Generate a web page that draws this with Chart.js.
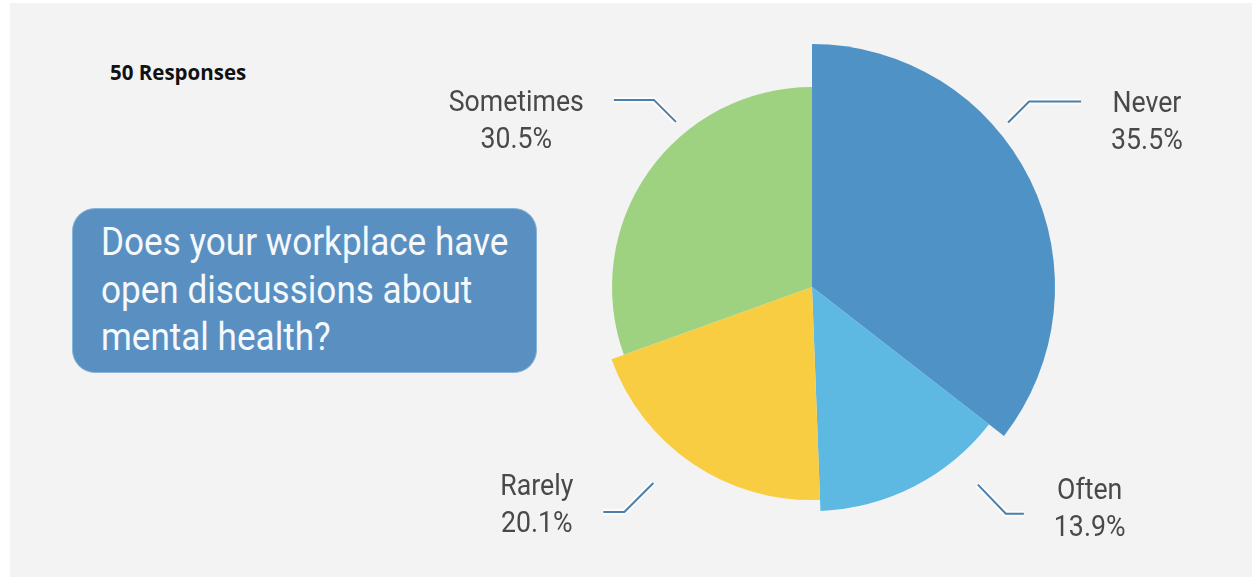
<!DOCTYPE html>
<html>
<head>
<meta charset="utf-8">
<title>Open discussions about mental health</title>
<script src="https://cdn.jsdelivr.net/npm/chart.js@4"></script>
<style>
  body { margin: 0; background: #fff; }
  #wrap { position: relative; width: 1252px; height: 577px; overflow: hidden; }
  #panel { position: absolute; left: 10px; top: 3px; right: 0; bottom: 0; background: #f3f3f3; }
  #count { position: absolute; left: 110px; top: 62px; font: 700 20.5px/20.5px "Open Sans", sans-serif; color: #111; white-space: nowrap; }
  #question { position: absolute; left: 72px; top: 208px; width: 465px; height: 165px; box-sizing: border-box;
              border-radius: 23px; background: #5a90c1; border: 1px solid #86b5dc; }
  #questionText { position: absolute; left: 101px; top: 219px; font: 39px/47.5px Roboto, sans-serif; color: #f6f9fc;
                  white-space: nowrap; transform: scaleX(0.9); transform-origin: left top; }
  #pie { position: absolute; left: 0; top: 0; }
</style>
</head>
<body>
<div id="wrap">
  <div id="panel"></div>
  <div id="count">50 Responses</div>
  <div id="question"></div>
  <div id="questionText">Does your workplace have<br>open discussions about<br>mental health?</div>
  <canvas id="pie" width="1252" height="577"></canvas>
</div>
<script>
var labels = ['Never', 'Often', 'Rarely', 'Sometimes'];
var shares = [35.5, 13.9, 20.1, 30.5];

var colors = ['#4f93c6', '#5db8e2', '#f9cd41', '#9ed280'];
// each slice reaches out to its own share of the full radius
var reach = [1, 0.922, 0.877, 0.823];

// leader lines: angle from 12 o'clock, gap past the slice edge, elbow, horizontal run
var callouts = [
    {at: 50,    gap: 13, bend: [21, -21], run: 52,  lift: 11},
    {at: 140,   gap: 34, bend: [28, 29],  run: 18,  lift: -15},
    {at: 219,   gap: 39, bend: [-29, 29], run: -21, lift: -17},
    {at: 320.5, gap: 14, bend: [-22, -22], run: -40, lift: 11}
];

var squeeze = 0.89;

var calloutPlugin = {
    id: 'callouts',
    afterDatasetUpdate: function(chart, args) {
        args.meta.data.forEach(function(arc, i) {
            arc.outerRadius = arc.outerRadius * reach[i];
        });
    },
    afterDraw: function(chart) {
        var ctx = chart.ctx;
        var arcs = chart.getDatasetMeta(0).data;

        arcs.forEach(function(arc, i) {
            var c = callouts[i];
            var a = (c.at - 90) * Math.PI / 180;
            var r = arc.outerRadius + c.gap;
            var x0 = arc.x + r * Math.cos(a),
                y0 = arc.y + r * Math.sin(a),
                x1 = x0 + c.bend[0],
                y1 = y0 + c.bend[1],
                x2 = x1 + c.run;

            ctx.save();
            ctx.lineJoin = 'miter';
            ctx.beginPath();
            ctx.moveTo(x0, y0);
            ctx.lineTo(x1, y1);
            ctx.lineTo(x2, y1);
            ctx.strokeStyle = 'rgba(255, 255, 255, 0.7)';
            ctx.lineWidth = 6;
            ctx.stroke();
            ctx.strokeStyle = '#4b7fa9';
            ctx.lineWidth = 2;
            ctx.stroke();

            var lines = [labels[i], shares[i].toFixed(1) + '%'];
            ctx.font = '30px Roboto';
            ctx.fillStyle = '#494949';
            ctx.textAlign = 'center';
            ctx.textBaseline = 'alphabetic';

            var w = Math.max.apply(null, lines.map(function(t) {
                return ctx.measureText(t).width * squeeze;
            }));
            var left = c.run > 0 ? x2 + 30 : x2 - 30 - w;

            lines.forEach(function(t, k) {
                ctx.save();
                ctx.translate(left + w / 2, y1 + c.lift + k * 37);
                ctx.scale(squeeze, 1);
                ctx.fillText(t, 0, 0);
                ctx.restore();
            });
            ctx.restore();
        });
    }
};

new Chart(document.getElementById('pie'), {
    type: 'pie',
    data: {
        labels: labels,
        datasets: [{
            data: shares,
            backgroundColor: colors,
            borderWidth: 0
        }]
    },
    options: {
        responsive: false,
        animation: false,
        events: [],
        layout: { padding: { left: 569, right: 197, top: 44, bottom: 47 } },
        plugins: {
            legend: { display: false },
            tooltip: { enabled: false }
        }
    },
    plugins: [calloutPlugin]
});
</script>
</body>
</html>
